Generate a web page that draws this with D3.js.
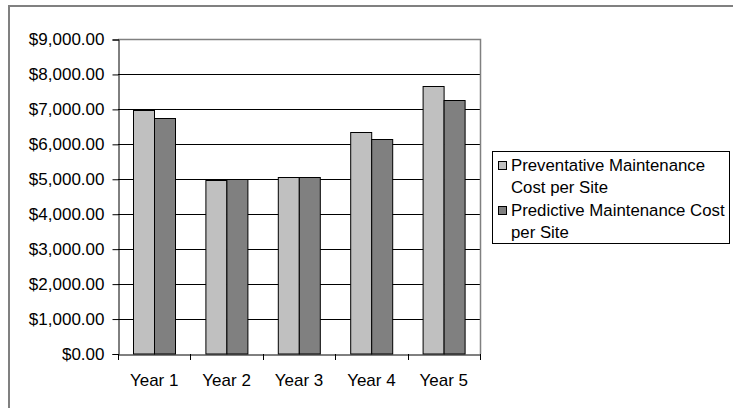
<!DOCTYPE html>
<html>
<head>
<meta charset="utf-8">
<script src="https://cdn.jsdelivr.net/npm/d3@7/dist/d3.min.js"></script>
<style>
  html, body { margin: 0; padding: 0; background: #fff; }
  svg { display: block; font-family: "Liberation Sans", Arial, sans-serif; }
</style>
</head>
<body>
<svg id="chart" width="733" height="408"></svg>
<script>
// Cost per site, by year
const categories = ["Year 1", "Year 2", "Year 3", "Year 4", "Year 5"];
const seriesNames = [
  ["Preventative Maintenance", "Cost per Site"],
  ["Predictive Maintenance Cost", "per Site"]
];
const preventative = [6980, 4970, 5070, 6360, 7680];
const predictive = [6760, 5020, 5070, 6150, 7260];
const yTicks = [0, 1000, 2000, 3000, 4000, 5000, 6000, 7000, 8000, 9000];
const seriesColors = ["#c0c0c0", "#808080"];

const FONT = 17;
const svg = d3.select("#chart");
const plot = { left: 118, right: 480, top: 39.5, bottom: 354 };

// outer chart border
svg.append("rect")
  .attr("x", 9).attr("y", 6).attr("width", 740).attr("height", 420)
  .attr("fill", "none").attr("stroke", "#808080").attr("stroke-width", 2);

const x = d3.scaleBand().domain(categories).range([plot.left, plot.right]).paddingInner(0).paddingOuter(0);
const y = d3.scaleLinear().domain([0, 9000]).range([plot.bottom, plot.top]);

// gridlines
svg.append("g").selectAll("line")
  .data(yTicks.filter(t => t > 0 && t < 9000))
  .join("line")
  .attr("x1", plot.left).attr("x2", plot.right)
  .attr("y1", d => Math.round(y(d)) + 0.5).attr("y2", d => Math.round(y(d)) + 0.5)
  .attr("stroke", "#000").attr("stroke-width", 1);

// plot area frame (top and right)
svg.append("path")
  .attr("d", `M${plot.left},${plot.top}H${plot.right + 0.5}V${plot.bottom}`)
  .attr("fill", "none").attr("stroke", "#808080").attr("stroke-width", 1.5);

// bars
const inner = d3.scaleBand().domain([0, 1]).range([0, x.bandwidth()]).paddingOuter(0.72).paddingInner(0);
const rows = categories.map((c, i) => ({ c, vals: [preventative[i], predictive[i]] }));
svg.append("g").selectAll("g")
  .data(rows)
  .join("g")
  .attr("transform", d => `translate(${x(d.c)},0)`)
  .selectAll("rect")
  .data(d => d.vals.map((v, k) => ({ v, k })))
  .join("rect")
  .attr("x", d => Math.round(inner(d.k)) + 0.5)
  .attr("width", Math.round(inner.bandwidth()))
  .attr("y", d => Math.round(y(d.v)) + 0.5)
  .attr("height", d => plot.bottom - Math.round(y(d.v)) - 0.5)
  .attr("fill", d => seriesColors[d.k])
  .attr("stroke", "#000").attr("stroke-width", 1);

// y axis
const yAxis = svg.append("g")
  .attr("transform", `translate(${plot.left + 0.5},0)`)
  .call(d3.axisLeft(y).tickValues(yTicks).tickSize(6).tickPadding(8)
    .tickFormat(d => "$" + d3.format(",.2f")(d)));
yAxis.select(".domain").attr("stroke", "#000");
yAxis.selectAll(".tick line").attr("stroke", "#000");
yAxis.selectAll("text").attr("font-size", FONT).attr("fill", "#000")
  .attr("font-family", "Liberation Sans, Arial, sans-serif");

// x axis
const xAxis = svg.append("g")
  .attr("transform", `translate(0,${plot.bottom + 0.5})`)
  .call(d3.axisBottom(x).tickSize(0).tickPadding(19));
xAxis.select(".domain").attr("stroke", "#000");
xAxis.selectAll("text").attr("font-size", FONT).attr("fill", "#000")
  .attr("font-family", "Liberation Sans, Arial, sans-serif");
// category boundary ticks
svg.append("g").selectAll("line")
  .data(categories.map(c => x(c)).concat([x.range()[1]]))
  .join("line")
  .attr("x1", d => Math.round(d) + 0.5).attr("x2", d => Math.round(d) + 0.5)
  .attr("y1", plot.bottom).attr("y2", plot.bottom + 6)
  .attr("stroke", "#000");

// legend
const legend = svg.append("g");
legend.append("rect")
  .attr("x", 492.5).attr("y", 151.5).attr("width", 237).attr("height", 92)
  .attr("fill", "#fff").attr("stroke", "#000").attr("stroke-width", 1);
const lineBase = [[171, 193], [216, 238]];
seriesNames.forEach((lines, k) => {
  legend.append("rect")
    .attr("x", 498.5).attr("y", lineBase[k][0] - 9.5).attr("width", 8).attr("height", 8)
    .attr("fill", seriesColors[k]).attr("stroke", "#000");
  lines.forEach((t, j) => {
    legend.append("text")
      .attr("x", 511).attr("y", lineBase[k][j])
      .attr("font-size", 16.8).attr("fill", "#000")
      .text(t);
  });
});
</script>
</body>
</html>
